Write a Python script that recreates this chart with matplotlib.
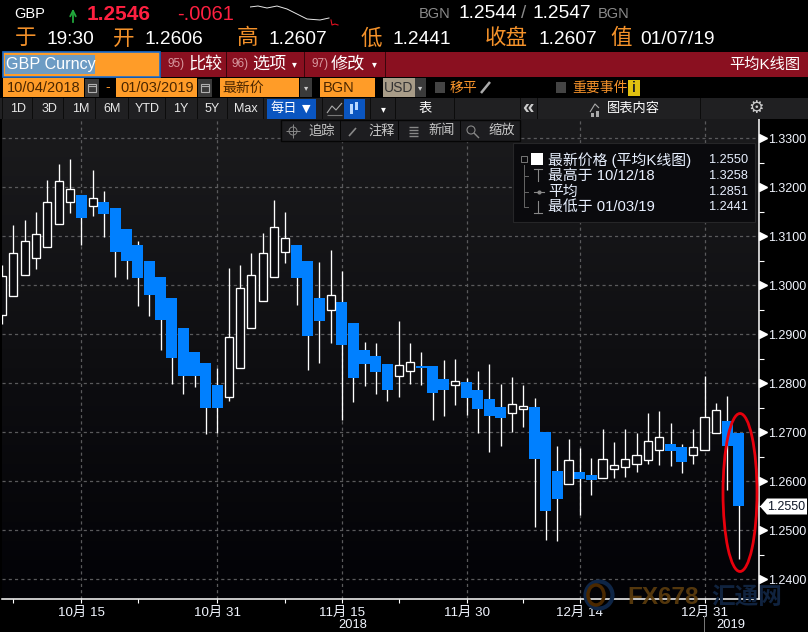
import matplotlib
matplotlib.use('Agg')
import matplotlib.pyplot as plt
import numpy as np
from matplotlib.patches import Circle, Ellipse, Polygon, Rectangle

plt.rcParams['font.family'] = ['Liberation Sans', 'Noto Sans CJK SC', 'DejaVu Sans']

# Daily heikin-ashi candles, 66 weekdays from 10/04/2018 to 01/03/2019
opens = [1.2939, 1.2979, 1.3022, 1.3056, 1.3079, 1.3126, 1.3169, 1.3184, 1.3161, 1.3170, 1.3158,
         1.3115, 1.3082, 1.3050, 1.3017, 1.2974, 1.2913, 1.2864, 1.2842, 1.2797, 1.2773, 1.2832,
         1.2912, 1.2967, 1.3016, 1.3067, 1.3082, 1.3050, 1.2974, 1.2950, 1.2966, 1.2923, 1.2868,
         1.2856, 1.2839, 1.2814, 1.2826, 1.2835, 1.2835, 1.2809, 1.2797, 1.2803, 1.2786, 1.2768,
         1.2752, 1.2740, 1.2748, 1.2752, 1.2701, 1.2621, 1.2594, 1.2619, 1.2613, 1.2607, 1.2626,
         1.2630, 1.2636, 1.2644, 1.2663, 1.2676, 1.2670, 1.2654, 1.2663, 1.2698, 1.2723, 1.2699]
closes = [1.3020, 1.3065, 1.3090, 1.3104, 1.3171, 1.3212, 1.3196, 1.3137, 1.3178, 1.3146, 1.3068,
          1.3050, 1.3015, 1.2980, 1.2929, 1.2852, 1.2815, 1.2815, 1.2750, 1.2750, 1.2894, 1.2994,
          1.3022, 1.3065, 1.3118, 1.3096, 1.3015, 1.2897, 1.2927, 1.2980, 1.2878, 1.2811, 1.2839,
          1.2823, 1.2786, 1.2837, 1.2843, 1.2831, 1.2780, 1.2786, 1.2804, 1.2770, 1.2748, 1.2733,
          1.2729, 1.2757, 1.2753, 1.2646, 1.2539, 1.2564, 1.2643, 1.2605, 1.2603, 1.2645, 1.2633,
          1.2645, 1.2653, 1.2682, 1.2690, 1.2662, 1.2639, 1.2671, 1.2731, 1.2745, 1.2672, 1.2550]
highs = [1.3042, 1.3123, 1.3133, 1.3150, 1.3215, 1.3248, 1.3258, 1.3184, 1.3235, 1.3193, 1.3158,
         1.3115, 1.3090, 1.3050, 1.3017, 1.2974, 1.2913, 1.2864, 1.2842, 1.2831, 1.3035, 1.3042,
         1.3066, 1.3107, 1.3174, 1.3150, 1.3082, 1.3050, 1.3048, 1.3072, 1.3029, 1.2923, 1.2884,
         1.2882, 1.2839, 1.2927, 1.2882, 1.2864, 1.2835, 1.2848, 1.2850, 1.2810, 1.2825, 1.2839,
         1.2799, 1.2813, 1.2797, 1.2770, 1.2701, 1.2672, 1.2686, 1.2668, 1.2648, 1.2707, 1.2680,
         1.2707, 1.2699, 1.2739, 1.2744, 1.2719, 1.2676, 1.2707, 1.2815, 1.2760, 1.2774, 1.2699]
lows = [1.2921, 1.2979, 1.3022, 1.3033, 1.3079, 1.3126, 1.3148, 1.3082, 1.3142, 1.3099, 1.3017,
        1.3013, 1.2958, 1.2937, 1.2868, 1.2799, 1.2778, 1.2793, 1.2697, 1.2698, 1.2764, 1.2832,
        1.2912, 1.2967, 1.3016, 1.3046, 1.2960, 1.2827, 1.2842, 1.2882, 1.2725, 1.2762, 1.2795,
        1.2778, 1.2764, 1.2772, 1.2799, 1.2797, 1.2725, 1.2733, 1.2756, 1.2735, 1.2699, 1.2660,
        1.2672, 1.2701, 1.2711, 1.2507, 1.2480, 1.2478, 1.2594, 1.2531, 1.2572, 1.2607, 1.2607,
        1.2609, 1.2619, 1.2635, 1.2633, 1.2631, 1.2617, 1.2635, 1.2663, 1.2698, 1.2582, 1.2441]

# x axis: positions are trading-day numbers
date_ticks = [7, 19, 30, 41, 51, 62]
date_labels = ['10月 15', '10月 31', '11月 15', '11月 30', '12月 14', '12月 31']
minor_date_ticks = [1, 12, 25, 35, 46]
price_ticks = [1.24, 1.25, 1.26, 1.27, 1.28, 1.29, 1.30, 1.31, 1.32, 1.33]
minor_price_ticks = [1.245, 1.255, 1.265, 1.275, 1.285, 1.295, 1.305, 1.315, 1.325]
last_price = 1.2550

# little intraday line in the header
spark_x = [0, 8, 17, 27, 37, 47, 57, 70, 79]
spark_vals = [19, 20, 18, 20, 17, 12, 7, 6, 8]
spark_red_x = [81, 82, 85, 88]
spark_red_vals = [6, 1, 2, 1]

ORANGE = '#ff9c28'
TEXT_ORANGE = '#f5922a'
BOX_TEXT = '#4a2600'
BLUE = '#0080ff'
RED_BAND = '#8a1020'
GRID = '#5a5a5c'

W, H = 808, 632
fig = plt.figure(figsize=(W / 100, H / 100), dpi=100, facecolor='black')


def px_axes(left, top, right, bottom, **kwargs):
    return fig.add_axes([left / W, 1 - bottom / H, (right - left) / W, (bottom - top) / H], **kwargs)


# --- Price chart ---
ax = px_axes(2, 119, 758.7, 599.3)
gradient = np.linspace(0, 1, 256).reshape(-1, 1)
ax.imshow(gradient, aspect='auto', extent=(0, 1, 0, 1), transform=ax.transAxes, zorder=0,
          cmap=matplotlib.colors.LinearSegmentedColormap.from_list('bg', ['#1b1b1d', '#020206']), origin='upper')

ax.set_xlim(0, 66.78)
ax.set_ylim(1.23592, 1.33394)

for v in price_ticks:
    ax.axhline(v, color=GRID, lw=0.9, dashes=(2.5, 2.5), zorder=1)
for i in date_ticks:
    ax.axvline(i, color=GRID, lw=0.9, dashes=(2.5, 2.5), zorder=1)

days = np.arange(len(opens))
opens = np.array(opens)
closes = np.array(closes)
ax.vlines(days, lows, highs, color='white', lw=0.95, zorder=2)
down = closes < opens
ax.bar(days[down], (opens - closes)[down], bottom=closes[down], width=0.97, color=BLUE, lw=0, zorder=3)
ax.bar(days[~down], (closes - opens)[~down], bottom=opens[~down], width=0.72, facecolor='#0c0c10',
       edgecolor='white', lw=0.95, zorder=3)

for s in ['top', 'left']:
    ax.spines[s].set_visible(False)
for s in ['right', 'bottom']:
    ax.spines[s].set_color('white')
    ax.spines[s].set_linewidth(1.1)

ax.yaxis.tick_right()
ax.set_yticks(price_ticks)
ax.set_yticklabels(['%.4f' % v for v in price_ticks], color='#f2f6ff', fontsize=9.0)
ax.set_yticks(minor_price_ticks, minor=True)
ax.tick_params(axis='y', which='major', length=0, pad=6.4)
ax.tick_params(axis='y', which='minor', length=3.5, color='white', width=0.8)
ax.plot([1.006] * len(price_ticks), price_ticks, ls='none', marker='>', ms=5.5, mfc='white', mec='white',
        transform=ax.get_yaxis_transform(), clip_on=False, zorder=5)
ax.hlines(price_ticks, 1.0, 1.006, color='white', lw=0.8, transform=ax.get_yaxis_transform(), clip_on=False)

ax.set_xticks(date_ticks)
ax.set_xticklabels(date_labels, color='#f2f6ff', fontsize=9.6)
ax.set_xticks(minor_date_ticks, minor=True)
ax.tick_params(axis='x', which='both', length=3, color='white', width=0.8, pad=2.5)

# --- Header, toolbars and annotations are drawn in screen pixels ---
ui = fig.add_axes([0, 0, 1, 1], facecolor='none')
ui.set_xlim(0, W)
ui.set_ylim(H, 0)
ui.axis('off')


def box(x0, y0, x1, y1, color, **kwargs):
    ui.add_patch(Rectangle((x0, y0), x1 - x0, y1 - y0, facecolor=color, edgecolor=kwargs.pop('edge', 'none'),
                           lw=kwargs.pop('lw', 0), **kwargs))


def label(x, y, s, color='white', size=9.5, ha='left', **kwargs):
    ui.text(x, y, s, color=color, fontsize=size, ha=ha, va='center', **kwargs)


def stroke(xs, ys, color='#999999', lw=0.8):
    ui.plot(xs, ys, color=color, lw=lw, solid_capstyle='butt')


def calendar(x0):
    box(x0, 79, x0 + 14, 97, '#3a3a3a')
    box(x0 + 3, 84, x0 + 11, 92, 'none', edge='#b0b0b0', lw=0.8)
    stroke([x0 + 3, x0 + 11], [86, 86], '#b0b0b0')


# first two rows
label(14, 14, 'GBP', size=10.5)
ui.annotate('', xy=(73, 6), xytext=(73, 25), arrowprops=dict(arrowstyle='->', color='#22a83c', lw=1.3))
label(87, 14, '1.2546', color='#ff2040', size=15, fontweight='bold')
label(177, 14, '-.0061', color='#ff2040', size=14.5)
label(419, 14, 'BGN', color='#8a8a8a', size=10.5)
label(458, 14, '1.2544', size=13.8)
label(521, 14, '/', color='#8a8a8a', size=13.5)
label(532, 14, '1.2547', size=13.8)
label(598, 14, 'BGN', color='#8a8a8a', size=10.5)

row2 = [(15, '于', TEXT_ORANGE), (46, '19:30', 'white'), (113, '开', TEXT_ORANGE), (144, '1.2606', 'white'),
        (237, '高', TEXT_ORANGE), (268, '1.2607', 'white'), (361, '低', TEXT_ORANGE), (392, '1.2441', 'white'),
        (485, '收盘', TEXT_ORANGE), (538, '1.2607', 'white'), (610, '值', TEXT_ORANGE), (640, '01/07/19', 'white')]
for x, s, c in row2:
    label(x, 39, s, color=c, size=15.5 if c != 'white' else 13.8)

# red command band
box(161, 52, W, 77, RED_BAND)
box(3, 52, 160, 77, ORANGE, edge='#1c6fd0', lw=1.2)
box(5, 55, 95, 74, '#6d9cc4')
label(6, 65, 'GBP Curncy', size=11.6)
for x in [226, 304, 385]:
    box(x - 0.5, 52, x + 0.5, 77, '#3a060c')
for x, num, s in [(168, '95)', '比较'), (232, '96)', '选项'), (311, '97)', '修改')]:
    label(x, 64, num, color='#d89aa0', size=8.5)
    label(x + 20, 64, s, size=12.3)
for x in [294, 374]:
    label(x, 64, '▾', size=7, ha='center', family='DejaVu Sans')
label(800, 65, '平均K线图', size=11, ha='right')

# date / source row
box(3, 78, 84, 97, ORANGE)
box(116, 78, 197, 97, ORANGE)
box(220, 78, 299, 97, ORANGE)
box(320, 78, 375, 97, ORANGE)
box(383, 78, 415, 97, '#a89c88')
calendar(85)
calendar(198)
box(300, 78, 312, 97, '#3a3a3a')
box(415, 78, 426, 97, '#3a3a3a')
label(306, 87.5, '▾', size=6, ha='center', family='DejaVu Sans', color='#cccccc')
label(420.5, 87.5, '▾', size=6, ha='center', family='DejaVu Sans', color='#cccccc')
label(7, 87.5, '10/04/2018', color=BOX_TEXT, size=10.5)
label(120, 87.5, '01/03/2019', color=BOX_TEXT, size=10.5)
label(222, 87.5, '最新价', color=BOX_TEXT, size=10)
label(323, 87.5, 'BGN', color=BOX_TEXT, size=10.5)
label(384, 87.5, 'USD', color='#333333', size=10)
label(108, 87.5, '-', color=TEXT_ORANGE, size=10, ha='center')
box(435, 82, 445, 93, '#444444')
box(556, 82, 566, 93, '#444444')
label(450, 87.5, '移平', color=TEXT_ORANGE, size=10)
stroke([481, 490], [93, 82], '#aaaaaa', 1.8)
label(572, 87.5, '重要事件', color=TEXT_ORANGE, size=10)
box(628, 80, 640, 96, '#e0c010')
label(634, 88, 'i', color='#222222', size=10, ha='center', fontweight='bold')

# range buttons
box(0, 98, W, 119, '#202022')
range_x = [18, 49, 81, 112, 147, 181, 212, 246]
range_names = ['1D', '3D', '1M', '6M', 'YTD', '1Y', '5Y', 'Max']
for x, s in zip(range_x, range_names):
    label(x, 109, s, size=9, ha='center', color='#e8e8e8')
for x in [2, 32, 63, 95, 128, 165, 197, 227, 263, 322, 370, 395, 454, 520, 537, 700]:
    box(x - 0.5, 98, x + 0.5, 119, '#0c0c0c')
box(267, 99, 316, 119, '#0a55c0')
label(271, 109, '每日', size=9.5)
label(306, 109, '▼', size=8, ha='center', family='DejaVu Sans')
stroke([327, 332, 336, 342], [113, 106, 110, 103], '#aaaaaa')
stroke([327, 342], [115, 115], '#777777')
box(344, 99, 365, 119, '#0a55c0')
for x, y0, y1 in [(351, 104, 114), (356, 102, 110)]:
    box(x - 1.5, y0, x + 1.5, y1, '#b8d8ff')
label(383, 109, '▾', size=7, ha='center', family='DejaVu Sans')
label(425, 109, '表', size=9.5, ha='center')
label(528, 107, '«', size=15, ha='center', color='#cccccc', fontweight='bold')
stroke([590, 595, 599], [112, 104, 108], '#aaaaaa')
box(591, 113, 594, 117, '#aaaaaa')
box(596, 111, 599, 117, '#aaaaaa')
label(607, 109, '图表内容', size=9.5)
label(756, 108, '⚙', size=12.5, ha='center', color='#cccccc', family='DejaVu Sans')

# drawing toolbar over the chart
box(281, 120, 520, 141, '#1d1d20', edge='#050505', lw=1)
for x, s in [(308, '追踪'), (368, '注释'), (428, '新闻'), (488, '缩放')]:
    label(x, 131, s, size=9.5, color='#c8c8c8')
for x in [340, 398, 460]:
    box(x - 0.5, 121, x + 0.5, 140, '#060606')
ui.add_patch(Circle((293, 131), 4, fill=False, edgecolor='#888888', lw=0.7))
stroke([286, 300], [131, 131], '#888888', 0.7)
stroke([293, 293], [124, 138], '#888888', 0.7)
stroke([349, 356], [136, 128], '#888888', 1.2)
for y in [127, 130, 133, 136]:
    stroke([409, 418], [y, y], '#888888', 1)
ui.add_patch(Circle((471, 130), 4, fill=False, edgecolor='#888888', lw=0.8))
stroke([474, 479], [133, 138], '#888888', 1)

# legend box
box(513, 143, 755, 222, '#0a0a0d', edge='#262628', lw=0.8)
box(531, 153, 543, 165, 'white')
ui.plot([524, 524, 528], [165, 207, 207], color='#666666', lw=0.7)
for y in [176, 192]:
    ui.plot([524, 528], [y, y], color='#666666', lw=0.7)
box(521, 156, 527, 162, 'none', edge='#777777', lw=0.7)
ui.plot([534, 544], [192, 192], color='#888888', lw=0.8)
ui.plot([539], [192], color='#888888', marker='o', ms=2)
ui.plot([538, 538], [169, 181], color='#888888', lw=0.8)
ui.plot([534, 542], [169, 169], color='#888888', lw=0.8)
ui.plot([538, 538], [201, 213], color='#888888', lw=0.8)
ui.plot([534, 542], [213, 213], color='#888888', lw=0.8)
legend_rows = [(160, '最新价格 (平均K线图)', '1.2550'), (176, '最高于 10/12/18', '1.3258'),
               (192, '平均', '1.2851'), (207, '最低于 01/03/19', '1.2441')]
for y, name, val in legend_rows:
    label(548, y, name, size=10.7, color='#e8f0ff')
    label(709, y, val, size=9.2, color='#e8f0ff')

# last price flag
ui.add_patch(Polygon([(760, 506.5), (767, 498.5), (807, 498.5), (807, 514.5), (767, 514.5)],
                     facecolor='white', edgecolor='none'))
label(767.5, 506.5, '%.4f' % last_price, color='#101828', size=9.0)

# ellipse drawn around the last candle
ui.add_patch(Ellipse((740, 492.5), 34, 158, fill=False, edgecolor='#e8000c', lw=2))

# years and the year divider
label(353, 625, '2018', size=9.3, ha='center', color='#f2f6ff')
label(731, 625, '2019', size=9.3, ha='center', color='#f2f6ff')
box(703.8, 616, 704.8, H, '#777777')

# watermark
ui.add_patch(Ellipse((599, 595), 27, 27, fill=False, edgecolor='#0e2546', lw=3))
ui.add_patch(Ellipse((596, 595), 16, 20, fill=False, edgecolor='#4a2800', lw=2.5))
label(627, 597, 'FX678', color='#5e3e0e', size=17.5, fontweight='bold', alpha=0.9)
label(711, 598, '汇通网', color='#10233f', size=17, fontweight='bold')

# header sparkline
spark = px_axes(250, 2, 340, 26, facecolor='none')
spark.plot(spark_x, spark_vals, color='#e8e8e8', lw=0.7)
spark.plot(spark_red_x, spark_red_vals, color='#e01020', lw=0.8)
spark.set_xlim(0, 90)
spark.set_ylim(0, 24)
spark.axis('off')

plt.savefig('out.png', dpi=100, facecolor='black')
